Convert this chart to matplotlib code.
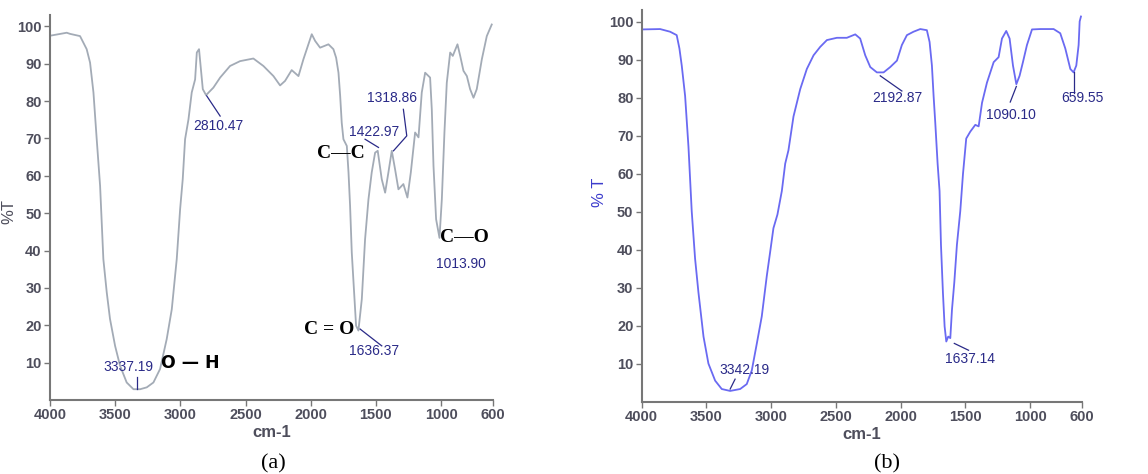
import matplotlib.pyplot as plt

# panel (a) spectrum, wavenumber (cm-1) and %T
wn_a = [4000, 3872, 3847, 3770, 3719, 3693, 3667, 3642, 3616, 3591, 3565, 3540,
        3501, 3463, 3412, 3360, 3309, 3258, 3207, 3156, 3105, 3066, 3028, 3002,
        2982, 2964, 2938, 2913, 2887, 2874, 2857, 2841, 2828, 2803, 2747, 2695,
        2619, 2542, 2440, 2363, 2286, 2235, 2197, 2146, 2094, 2056, 1992, 1966,
        1928, 1864, 1826, 1805, 1787, 1774, 1762, 1749, 1723, 1710, 1698, 1685,
        1667, 1652, 1634, 1608, 1583, 1557, 1532, 1506, 1486, 1455, 1429, 1404,
        1378, 1353, 1327, 1289, 1258, 1232, 1199, 1173, 1148, 1122, 1084, 1071,
        1058, 1038, 1012, 994, 974, 956, 930, 910, 874, 853, 828, 802, 777, 751,
        726, 687, 649, 611]
t_a = [97.5, 98.3, 98.0, 97.4, 93.9, 90.3, 82.3, 69.8, 57.3, 37.7, 28.8, 21.7,
       14.5, 9.2, 4.7, 2.9, 2.9, 3.4, 4.7, 8.3, 16.3, 24.3, 37.7, 51.1,
       59.1, 69.8, 75.1, 82.3, 85.8, 93.0, 93.9, 88.0, 83.2, 81.6, 83.6, 86.3,
       89.4, 90.7, 91.4, 89.4, 86.7, 84.2, 85.4, 88.3, 86.7, 91.2, 97.9, 96.1,
       94.3, 95.2, 93.9, 91.6, 87.6, 81.4, 74.2, 69.8, 68.0, 60.9, 52.0, 39.5,
       28.8, 19.9, 18.6, 27.0, 43.0, 53.7, 60.9, 66.2, 66.7, 59.1, 55.5, 60.9,
       66.7, 61.8, 56.4, 57.8, 54.2, 60.9, 71.6, 70.3, 82.3, 87.6, 86.3, 77.8,
       62.7, 48.4, 43.4, 53.7, 71.6, 84.9, 93.0, 92.1, 95.2, 92.1, 88.1, 86.7,
       83.2, 80.9, 83.2, 91.2, 97.4, 100.5]

# panel (b) spectrum
wn_b = [4000, 3858, 3781, 3730, 3709, 3691, 3665, 3639, 3614, 3588, 3562, 3523,
        3485, 3433, 3382, 3317, 3240, 3189, 3150, 3111, 3073, 3034, 3008, 2983,
        2952, 2918, 2892, 2867, 2828, 2776, 2725, 2673, 2622, 2570, 2493, 2416,
        2351, 2313, 2274, 2235, 2184, 2132, 2081, 2029, 1991, 1952, 1901, 1849,
        1798, 1777, 1759, 1746, 1733, 1715, 1700, 1689, 1674, 1661, 1648, 1633,
        1617, 1604, 1586, 1566, 1540, 1519, 1494, 1463, 1424, 1398, 1372, 1334,
        1282, 1244, 1218, 1185, 1159, 1133, 1107, 1082, 1056, 1025, 986, 922,
        819, 768, 729, 690, 665, 644, 626, 618, 608]
t_b = [98.0, 98.1, 97.4, 96.5, 93.0, 88.5, 80.5, 67.1, 50.2, 37.7, 28.8, 17.2,
       10.1, 5.6, 3.4, 2.9, 3.4, 4.7, 8.3, 15.4, 22.5, 33.2, 39.5, 45.7,
       49.3, 55.5, 62.7, 66.2, 75.1, 82.3, 87.6, 91.2, 93.4, 95.2, 95.8, 95.8,
       96.7, 95.6, 91.2, 88.1, 86.7, 86.7, 88.1, 89.8, 93.9, 96.5, 97.4, 98.1,
       97.8, 94.7, 88.5, 80.5, 73.4, 62.7, 55.5, 41.3, 28.8, 19.9, 15.9, 17.2,
       16.8, 24.3, 31.5, 41.3, 50.2, 60.0, 69.3, 71.1, 72.9, 72.5, 78.7, 84.0,
       89.4, 90.7, 95.6, 97.6, 95.6, 88.5, 83.6, 85.8, 89.4, 93.9, 98.0, 98.1,
       98.1, 97.0, 93.0, 87.6, 86.7, 88.5, 93.9, 100.1, 101.4]

x_ticks = [4000, 3500, 3000, 2500, 2000, 1500, 1000, 600]
x_tick_labels = ['4000', '3500', '3000', '2500', '2000', '1500', '1000', '600']
y_ticks = [10, 20, 30, 40, 50, 60, 70, 80, 90, 100]

# peak labels: (text, text x, text y, leader line xs, leader line ys)
peaks_a = [('2810.47', 2708, 73.3, [2798, 2695], [81.4, 76.0]),
           ('3337.19', 3396, 8.9, [3335, 3335], [6.1, 2.9]),
           ('1636.37', 1514, 13.2, [1621, 1455], [19.0, 14.5]),
           ('1422.97', 1514, 71.8, [1583, 1480], [69.8, 67.6]),
           ('1318.86', 1378, 80.7, [1289, 1263, 1365], [77.8, 70.7, 66.7]),
           ('1013.90', 846, 36.4, [], [])]
bonds_a = [('C\u2014C', 1769, 66.0), ('C = O', 1856, 19.0),
           ('C\u2014O', 823, 43.5)]
peaks_b = [('3342.19', 3209, 8.3, [3279, 3317], [6.0, 3.4]),
           ('2192.87', 2024, 80.0, [2158, 1991], [85.8, 81.8]),
           ('1637.14', 1468, 11.4, [1586, 1476], [15.4, 13.6]),
           ('1090.10', 1146, 75.6, [1107, 1154], [83.0, 78.9]),
           ('659.55', 595, 79.9, [659, 659], [86.7, 81.4])]

plt.rcParams['font.family'] = ['Liberation Sans', 'DejaVu Sans']
fig = plt.figure(figsize=(11.48, 4.74), dpi=100)
ax_a = fig.add_axes([0.0436, 0.156, 0.386, 0.812])
ax_b = fig.add_axes([0.559, 0.152, 0.3835, 0.826])

tick_col = '#4e4e5c'
lab_col = '#2a2a88'


def style(ax):
    ax.set_xlim(4000, 600)
    ax.set_ylim(0, 103)
    ax.set_xticks(x_ticks)
    ax.set_xticklabels(x_tick_labels)
    ax.set_yticks(y_ticks)
    ax.tick_params(labelsize=10.5, colors='#777777', labelcolor=tick_col,
                   length=4, width=1, pad=2)
    for lab in ax.get_xticklabels() + ax.get_yticklabels():
        lab.set_fontweight('bold')
    for s in ['top', 'right']:
        ax.spines[s].set_visible(False)
    for s in ['left', 'bottom']:
        ax.spines[s].set_color('#777777')
        ax.spines[s].set_linewidth(1.5)
    ax.set_xlabel('cm-1', fontsize=12, color=tick_col, fontweight='bold',
                  labelpad=2)


style(ax_a)
ax_a.plot(wn_a, t_a, color='#a3abb6', lw=1.3)
ax_a.set_ylabel('%T', fontsize=12, color=tick_col)
ax_a.yaxis.set_label_coords(-0.075, 0.49)
for txt, x, y, lx, ly in peaks_a:
    ax_a.text(x, y, txt, color=lab_col, fontsize=10, ha='center', va='center')
    if lx:
        ax_a.plot(lx, ly, color=lab_col, lw=0.9)
ax_a.text(2926, 9.8, 'O \u2014 H', color='black', fontsize=12.5, ha='center',
          va='center', fontweight='bold', family='DejaVu Sans')
for txt, x, y in bonds_a:
    ax_a.text(x, y, txt, color='black', fontsize=14, ha='center',
              va='center', fontweight='bold',
              family=['Liberation Serif', 'DejaVu Serif'])

style(ax_b)
ax_b.plot(wn_b, t_b, color='#6a6af2', lw=1.3)
ax_b.set_ylabel('% T', fontsize=12, color='#3c3ccc')
ax_b.yaxis.set_label_coords(-0.08, 0.536)
for txt, x, y, lx, ly in peaks_b:
    ax_b.text(x, y, txt, color=lab_col, fontsize=10, ha='center', va='center',
              clip_on=False)
    ax_b.plot(lx, ly, color=lab_col, lw=0.9)

fig.text(0.238, 0.012, '(a)', fontsize=16, ha='center',
         family=['Liberation Serif', 'DejaVu Serif'])
fig.text(0.773, 0.012, '(b)', fontsize=16, ha='center',
         family=['Liberation Serif', 'DejaVu Serif'])

fig.savefig('out.png', dpi=100)
